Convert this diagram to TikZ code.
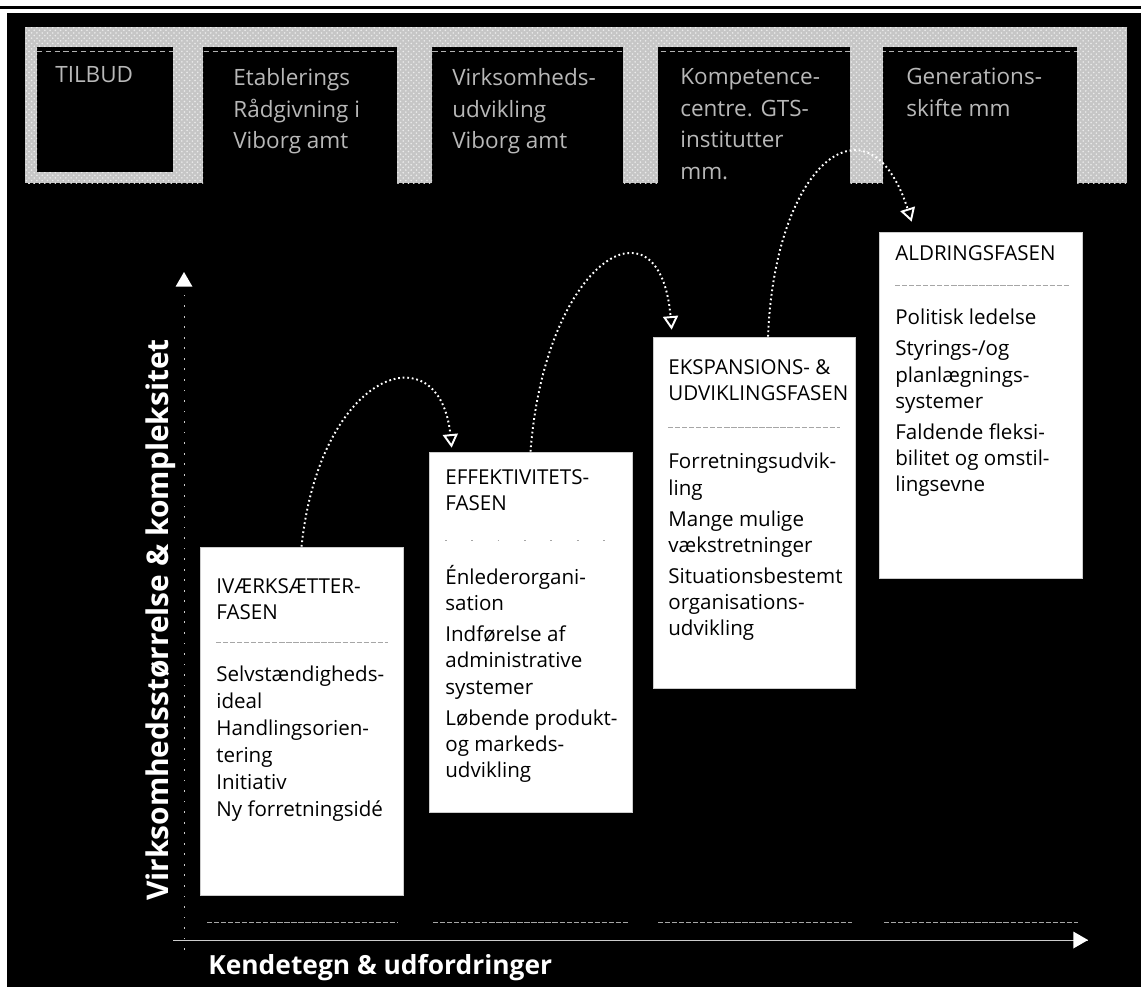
\documentclass[tikz,border=0pt]{standalone}
\usepackage{fontspec}
\setsansfont{Open Sans}
\usepackage{tikz}
\usetikzlibrary{shapes.geometric,arrows}
\usetikzlibrary{positioning,fit,patterns}

\begin{document}
\begin{tikzpicture}[x=0.02cm,y=-0.02cm,
    pillar/.style={preaction={fill=gray!45},pattern=crosshatch dots,pattern color=white!85!gray},
    offer/.style={anchor=north west,align=left,inner sep=0pt,text=white!72!black,font=\fontsize{12.8}{18}\selectfont},
    phase/.style={fill=white,draw=gray!40,inner sep=0pt},
    phasetext/.style={anchor=north west,align=left,inner sep=0pt,font=\fontsize{11.7}{15}\selectfont},
    jump/.style={->,>=open triangle 60,white,line width=1.1pt,dash pattern=on 1pt off 1.6pt},
    rule/.style={gray!70,dash pattern=on 3pt off 1pt,line width=0.5pt},
    axis/.style={white!80!black,line width=0.5pt},
    axistip/.style={->,>=triangle 60,white,line width=1.3pt}]
				\sffamily
				\useasboundingbox (0,0) rectangle (1141,987);
				\fill[white] (0,0) rectangle (1141,987);
				\fill[black] (0,6) rectangle (1141,9);
				\fill[black] (7,13) rectangle (1141,987);
				% tilbud (top row)
				\draw[gray!60, densely dashed, line width=0.4pt] (37,51) -- (1077,51);
				\fill[pillar] (25,27) rectangle (1127,47);
				\fill[pillar] (25,27) rectangle (37,183);
				\fill[pillar] (25,172) rectangle (173,183);
				\foreach \a/\b in {173/203,397/432,623/658,850/883,1077/1127}
					\fill[pillar] (\a,27) rectangle (\b,183);
				\node[offer] (tilbud) at (55,66) {TILBUD};
				\node[offer] (etab) at (233,68) {Etablerings\\Rådgivning i\\Viborg amt};
				\node[offer] (virk) at (452,68) {Virksomheds-\\udvikling\\Viborg amt};
				\node[offer] (komp) at (680,68) {Kompetence-\\centre. GTS-\\institutter\\mm.};
				\node[offer] (gen) at (906,68) {Generations-\\skifte mm};
				% faser
				\node[phase, fit={(200,547) (403,895)}] (ivaerk) {};
				\node[phase, fit={(429,452) (632,812)}] (effekt) {};
				\node[phase, fit={(653,337) (855,688)}] (ekspans) {};
				\node[phase, fit={(879,232) (1082,578)}] (aldring) {};
				\node[phasetext] (ivaerkT) at (216,578) {IVÆRKSÆTTER-\\FASEN};
				\draw[rule] (216,642) -- (388,642);
				\node[phasetext, font=\fontsize{11.7}{15.3}\selectfont] (ivaerkB) at (216,666) {Selvstændigheds-\\ideal\\Handlingsorien-\\tering\\Initiativ\\Ny forretningsidé};
				\node[phasetext] (effektT) at (445,469) {EFFEKTIVITETS-\\FASEN};
				\draw[gray!70, dash pattern=on 1pt off 14pt] (445,540) -- (615,540);
				\node[phasetext] (effektB) at (445,565) {Énlederorgani-\\sation\\[2.5pt]Indførelse af\\administrative\\systemer\\[2.5pt]Løbende produkt-\\og markeds-\\udvikling};
				\node[phasetext] (ekspansT) at (668,359) {EKSPANSIONS- \&\\UDVIKLINGSFASEN};
				\draw[rule] (668,427) -- (840,427);
				\node[phasetext] (ekspansB) at (668,453) {Forretningsudvik-\\ling\\[2.5pt]Mange mulige\\vækstretninger\\[2.5pt]Situationsbestemt\\organisations-\\udvikling};
				\node[phasetext] (aldringT) at (895,245) {ALDRINGSFASEN};
				\draw[rule] (895,285) -- (1070,285);
				\node[phasetext] (aldringB) at (895,309) {Politisk ledelse\\[2.5pt]Styrings-/og\\planlægnings-\\systemer\\[2.5pt]Faldende fleksi-\\bilitet og omstil-\\lingsevne};
				% spring mellem faserne
				\draw[jump] (ivaerk.north) .. controls (320,370) and (440,330) .. ([xshift=0.46cm,yshift=0.08cm]effekt.north west);
				\draw[jump] (effekt.north) .. controls (545,260) and (660,190) .. ([xshift=0.38cm,yshift=0.14cm]ekspans.north west);
				\draw[jump] ([xshift=0.28cm]ekspans.north) .. controls (775,160) and (870,90) .. ([xshift=0.66cm,yshift=0.2cm]aldring.north west);
				% akser
				\coordinate (origin) at (184,950);
				\coordinate (ytop) at (184,272);
				\coordinate (xstart) at (173,940);
				\coordinate (xend) at (1088,940);
				\draw[axis, dash pattern=on 1pt off 5pt] (origin) -- (ytop);
				\draw[axistip] ([yshift=-2pt]ytop) -- (ytop);
				\draw[axis] (xstart) -- (xend);
				\draw[axistip] ([xshift=-2pt]xend) -- (xend);
				\foreach \a/\b in {207/398,433/628,658/852,884/1078}
					\draw[rule] (\a,922) -- (\b,922);
				\node[font=\fontsize{17}{20}\bfseries, text=white, rotate=90] (ylabel) at (161,620) {Virksomhedsstørrelse \& kompleksitet};
				\node[font=\fontsize{15}{18}\bfseries, text=white, anchor=west, inner sep=0pt] (xlabel) at (208,968) {Kendetegn \& udfordringer};
\end{tikzpicture}
\end{document}
